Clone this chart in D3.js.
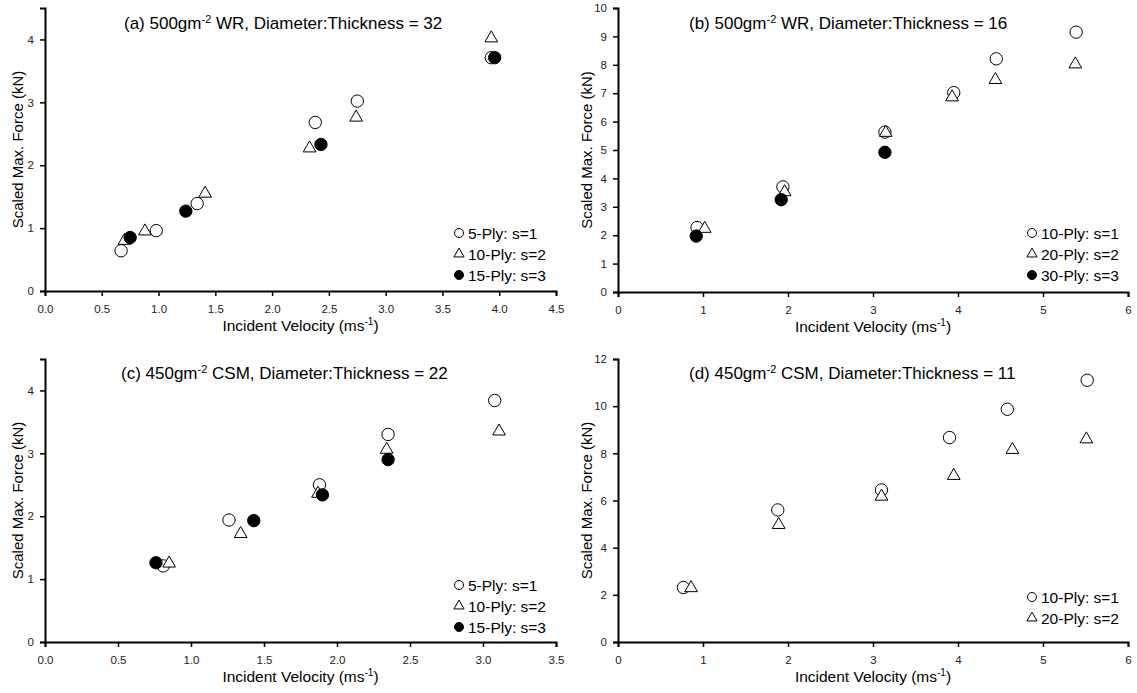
<!DOCTYPE html>
<html>
<head>
<meta charset="utf-8">
<script src="https://cdn.jsdelivr.net/npm/d3@7"></script>
<style>
  body { margin: 0; background: #fff; }
  svg { font-family: "Liberation Sans", Arial, sans-serif; }
  .axis path, .axis line { stroke: #000; }
  .axis path { stroke-width: 2; }
  .axis line { stroke-width: 1.5; }
  .axis text { font-size: 11.5px; fill: #222; }
</style>
</head>
<body>
<svg id="chart" width="1137" height="693"></svg>
<script>
// panel (a) 500gm-2 WR, D:T = 32
const aPly5  = [[0.67,0.64],[0.98,0.96],[1.34,1.39],[2.38,2.68],[2.75,3.02],[3.93,3.71]];
const aPly10 = [[0.70,0.80],[0.88,0.95],[1.41,1.55],[2.33,2.27],[2.74,2.76],[3.93,4.02]];
const aPly15 = [[0.75,0.85],[1.24,1.27],[2.43,2.33],[3.96,3.71]];

// panel (b) 500gm-2 WR, D:T = 16
const bPly10 = [[0.93,2.27],[1.94,3.70],[3.14,5.63],[3.95,7.02],[4.45,8.21],[5.39,9.15]];
const bPly20 = [[1.02,2.23],[1.96,3.52],[3.15,5.61],[3.93,6.86],[4.44,7.47],[5.38,8.02]];
const bPly30 = [[0.92,1.97],[1.92,3.25],[3.14,4.92]];

// panel (c) 450gm-2 CSM, D:T = 22
const cPly5  = [[0.81,1.21],[1.26,1.94],[1.88,2.50],[2.35,3.30],[3.08,3.84]];
const cPly10 = [[0.85,1.25],[1.34,1.72],[1.87,2.36],[2.34,3.06],[3.11,3.35]];
const cPly15 = [[0.76,1.26],[1.43,1.93],[1.90,2.34],[2.35,2.90]];

// panel (d) 450gm-2 CSM, D:T = 11
const dPly10 = [[0.77,2.31],[1.88,5.60],[3.10,6.45],[3.90,8.67],[4.58,9.87],[5.52,11.10]];
const dPly20 = [[0.86,2.29],[1.89,4.97],[3.10,6.17],[3.95,7.05],[4.64,8.15],[5.51,8.60]];

const xTicksA = [0, 0.5, 1, 1.5, 2, 2.5, 3, 3.5, 4, 4.5];
const xTicksC = [0, 0.5, 1, 1.5, 2, 2.5, 3, 3.5];
const xTicksB = [0, 1, 2, 3, 4, 5, 6];
const yTicksA = [0, 1, 2, 3, 4];
const yTicksB = [0, 1, 2, 3, 4, 5, 6, 7, 8, 9, 10];
const yTicksD = [0, 2, 4, 6, 8, 10, 12];

const panels = [
  { id: 'a', left: 45, right: 556, top: 8, bottom: 291, xMax: 4.5, yMax: 4.5,
    xTicks: xTicksA, yTicks: yTicksA, fmt: d3.format('.1f'), yLabelGap: 22.5,
    title: ['(a) 500gm', '-2', ' WR, Diameter:Thickness = 32'], titleX: 124, titleY: 29,
    legendX: 459, legendY: 233,
    series: [
      { data: aPly5,  shape: 'circle', label: '5-Ply: s=1' },
      { data: aPly10, shape: 'triangle', label: '10-Ply: s=2' },
      { data: aPly15, shape: 'filled', label: '15-Ply: s=3' },
    ] },
  { id: 'b', left: 618, right: 1128, top: 8, bottom: 292, xMax: 6, yMax: 10,
    xTicks: xTicksB, yTicks: yTicksB, fmt: d3.format('d'), yLabelGap: 26,
    title: ['(b) 500gm', '-2', ' WR, Diameter:Thickness = 16'], titleX: 689, titleY: 29,
    legendX: 1032, legendY: 233,
    series: [
      { data: bPly10, shape: 'circle', label: '10-Ply: s=1' },
      { data: bPly20, shape: 'triangle', label: '20-Ply: s=2' },
      { data: bPly30, shape: 'filled', label: '30-Ply: s=3' },
    ] },
  { id: 'c', left: 45, right: 556, top: 359, bottom: 642, xMax: 3.5, yMax: 4.5,
    xTicks: xTicksC, yTicks: yTicksA, fmt: d3.format('.1f'), yLabelGap: 22.5,
    title: ['(c) 450gm', '-2', ' CSM, Diameter:Thickness = 22'], titleX: 121, titleY: 379,
    legendX: 459, legendY: 585,
    series: [
      { data: cPly5,  shape: 'circle', label: '5-Ply: s=1' },
      { data: cPly10, shape: 'triangle', label: '10-Ply: s=2' },
      { data: cPly15, shape: 'filled', label: '15-Ply: s=3' },
    ] },
  { id: 'd', left: 618, right: 1128, top: 359, bottom: 642, xMax: 6, yMax: 12,
    xTicks: xTicksB, yTicks: yTicksD, fmt: d3.format('d'), yLabelGap: 26,
    title: ['(d) 450gm', '-2', ' CSM, Diameter:Thickness = 11'], titleX: 689, titleY: 379,
    legendX: 1032, legendY: 597,
    series: [
      { data: dPly10, shape: 'circle', label: '10-Ply: s=1' },
      { data: dPly20, shape: 'triangle', label: '20-Ply: s=2' },
    ] },
];

const svg = d3.select('#chart');

function drawMarker(g, shape, size) {
  const type = shape === 'triangle' ? d3.symbolTriangle : d3.symbolCircle;
  g.append('path')
    .attr('d', d3.symbol().type(type).size(size))
    .attr('fill', shape === 'filled' ? '#000' : '#fff')
    .attr('stroke', '#000')
    .attr('stroke-width', 1);
}

panels.forEach((p) => {
  const x = d3.scaleLinear().domain([0, p.xMax]).range([p.left, p.right]);
  const y = d3.scaleLinear().domain([0, p.yMax]).range([p.bottom, p.top]);
  const g = svg.append('g').attr('class', 'panel-' + p.id);

  // axes
  g.append('g')
    .attr('class', 'axis')
    .attr('transform', `translate(0,${p.bottom})`)
    .call(d3.axisBottom(x).tickValues(p.xTicks).tickFormat(p.fmt).tickSizeOuter(0).tickSize(5).tickPadding(9));

  g.append('g')
    .attr('class', 'axis')
    .attr('transform', `translate(${p.left},0)`)
    .call(d3.axisLeft(y).tickValues(p.yTicks).tickFormat(d3.format('d')).tickSizeOuter(0).tickSize(5).tickPadding(6));

  // axis titles
  const xt = g.append('text')
    .attr('x', (p.left + p.right) / 2)
    .attr('y', p.bottom + 40)
    .attr('text-anchor', 'middle')
    .style('font-size', '15.5px');
  xt.append('tspan').text('Incident Velocity (ms');
  xt.append('tspan').attr('dy', -6).style('font-size', '10px').text('-1');
  xt.append('tspan').attr('dy', 6).text(')');

  g.append('text')
    .attr('transform', `translate(${p.left - p.yLabelGap},${(p.top + p.bottom) / 2}) rotate(-90)`)
    .attr('text-anchor', 'middle')
    .style('font-size', '15px')
    .text('Scaled Max. Force (kN)');

  // panel title
  const tt = g.append('text')
    .attr('x', p.titleX)
    .attr('y', p.titleY)
    .style('font-size', '17px');
  tt.append('tspan').text(p.title[0]);
  tt.append('tspan').attr('dy', -6).style('font-size', '11px').text(p.title[1]);
  tt.append('tspan').attr('dy', 6).text(p.title[2]);

  // points
  p.series.forEach((s) => {
    g.append('g')
      .selectAll('g')
      .data(s.data)
      .join('g')
      .attr('transform', (d) => `translate(${x(d[0])},${y(d[1])})`)
      .each(function () { drawMarker(d3.select(this), s.shape, s.shape === 'triangle' ? 70 : 120); });
  });

  // legend
  p.series.forEach((s, i) => {
    const row = g.append('g').attr('transform', `translate(${p.legendX},${p.legendY + i * 21})`);
    drawMarker(row, s.shape, s.shape === 'triangle' ? 45 : 64);
    row.append('text')
      .attr('x', 9)
      .attr('y', 6)
      .style('font-size', '15.5px')
      .text(s.label);
  });
});
</script>
</body>
</html>
